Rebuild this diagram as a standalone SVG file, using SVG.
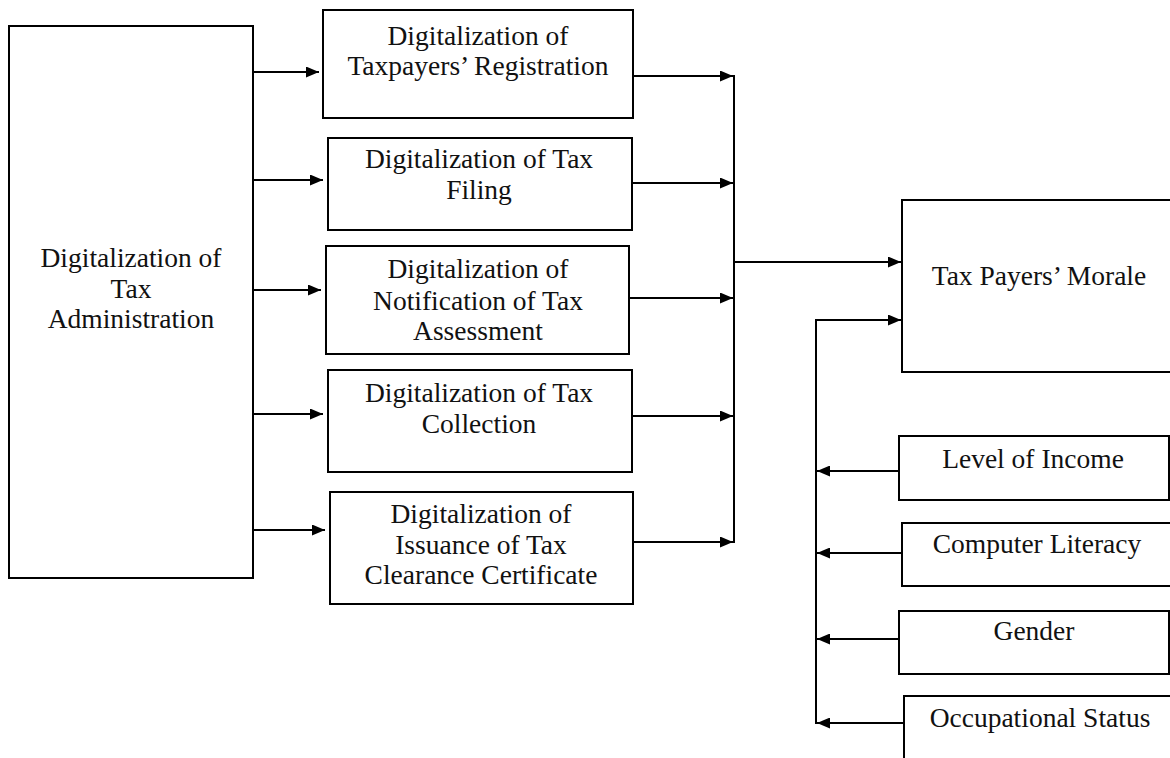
<svg xmlns="http://www.w3.org/2000/svg" width="1170" height="758" viewBox="0 0 1170 758">
<style>
rect{fill:#fff;stroke:#000;stroke-width:2}
text{font-family:"Liberation Serif","Times New Roman",serif;font-size:27.5px;fill:#111;text-anchor:middle}
.c line,.c path{stroke:#000;stroke-width:2;fill:none}
</style>
<defs>
<marker id="ah" markerWidth="13" markerHeight="11" refX="13" refY="5.5" orient="auto" markerUnits="userSpaceOnUse">
<path d="M0,0 L13,5.5 L0,11 z" fill="#000"/>
</marker>
</defs>
<rect x="0" y="0" width="1170" height="758" style="stroke:none"/>
<g id="admin"><rect x="9" y="26" width="244" height="552"/>
<text x="131" y="267">Digitalization of</text><text x="131" y="298">Tax</text><text x="131" y="328">Administration</text></g>
<g id="reg"><rect x="323" y="10" width="310" height="108"/>
<text x="478" y="45">Digitalization of</text><text x="478" y="75">Taxpayers’ Registration</text></g>
<g id="filing"><rect x="328" y="138" width="304" height="92"/>
<text x="479" y="168">Digitalization of Tax</text><text x="479" y="199">Filing</text></g>
<g id="notif"><rect x="326" y="246" width="303" height="108"/>
<text x="478" y="278">Digitalization of</text><text x="478" y="310">Notification of Tax</text><text x="478" y="340">Assessment</text></g>
<g id="collect"><rect x="328" y="370" width="304" height="102"/>
<text x="479" y="402">Digitalization of Tax</text><text x="479" y="433">Collection</text></g>
<g id="issue"><rect x="330" y="492" width="303" height="112"/>
<text x="481" y="523">Digitalization of</text><text x="481" y="554">Issuance of Tax</text><text x="481" y="584">Clearance Certificate</text></g>
<g id="morale"><rect x="902" y="200" width="300" height="172"/>
<text x="1039" y="285">Tax Payers’ Morale</text></g>
<g id="income"><rect x="899" y="436" width="270" height="64"/>
<text x="1033" y="468">Level of Income</text></g>
<g id="literacy"><rect x="902" y="523" width="300" height="63"/>
<text x="1037" y="553">Computer Literacy</text></g>
<g id="gender"><rect x="899" y="611" width="270" height="63"/>
<text x="1034" y="640">Gender</text></g>
<g id="occupation"><rect x="904" y="696" width="300" height="100"/>
<text x="1040" y="727">Occupational Status</text></g>
<g class="c" id="connectors">
<line x1="253" y1="72" x2="319" y2="72" marker-end="url(#ah)"/>
<line x1="253" y1="180" x2="323" y2="180" marker-end="url(#ah)"/>
<line x1="253" y1="290" x2="321" y2="290" marker-end="url(#ah)"/>
<line x1="253" y1="414" x2="323" y2="414" marker-end="url(#ah)"/>
<line x1="253" y1="530" x2="325" y2="530" marker-end="url(#ah)"/>
<line x1="633" y1="76" x2="733" y2="76" marker-end="url(#ah)"/>
<line x1="632" y1="183" x2="733" y2="183" marker-end="url(#ah)"/>
<line x1="629" y1="298" x2="733" y2="298" marker-end="url(#ah)"/>
<line x1="632" y1="416" x2="733" y2="416" marker-end="url(#ah)"/>
<line x1="633" y1="542" x2="733" y2="542" marker-end="url(#ah)"/>
<line x1="734" y1="75" x2="734" y2="543"/>
<line x1="734" y1="262" x2="901" y2="262" marker-end="url(#ah)"/>
<path d="M816,724 V320 H901" marker-end="url(#ah)"/>
<line x1="899" y1="471" x2="817" y2="471" marker-end="url(#ah)"/>
<line x1="902" y1="553" x2="817" y2="553" marker-end="url(#ah)"/>
<line x1="899" y1="639" x2="817" y2="639" marker-end="url(#ah)"/>
<line x1="904" y1="723" x2="817" y2="723" marker-end="url(#ah)"/>
</g>
</svg>
